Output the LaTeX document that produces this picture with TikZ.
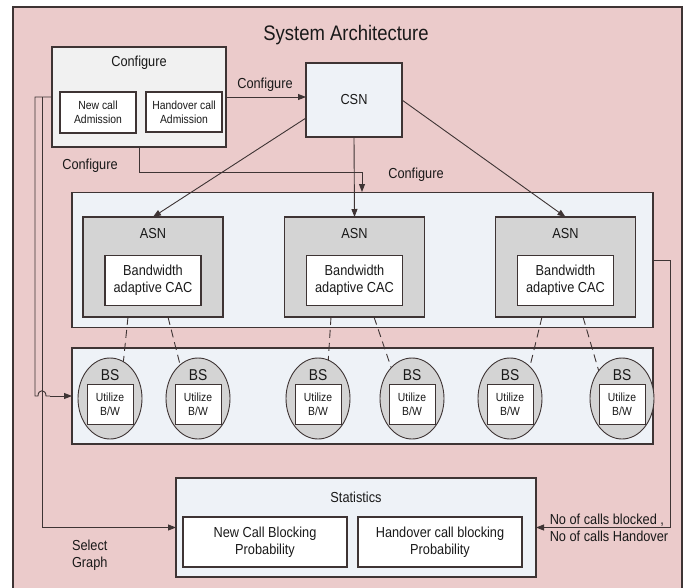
\documentclass[tikz,border=0pt]{standalone}
\usepackage{fontspec}
\setmainfont[FakeStretch=0.88]{Liberation Sans}
\usetikzlibrary{arrows.meta,calc,shapes.geometric}
\definecolor{pinkbg}{RGB}{235,203,203}
\definecolor{panel}{RGB}{238,242,247}
\definecolor{cfgfill}{RGB}{241,241,241}
\definecolor{asngray}{RGB}{212,212,212}
\definecolor{edge}{RGB}{62,52,52}
\begin{document}
\begin{tikzpicture}[x=1pt,y=-1pt,
  every node/.style={inner sep=0pt, outer sep=0pt, text=black!90},
  box/.style={draw=edge, line width=1.1pt, rectangle},
  whitebox/.style={box, fill=white, align=center, font=\fontsize{14.5}{17}\selectfont},
  smallbox/.style={box, fill=white, align=center, font=\fontsize{11.8}{14}\selectfont},
  lbl/.style={font=\fontsize{14.5}{17}\selectfont, align=center},
  conn/.style={draw=edge, line width=0.9pt},
  arr/.style={conn, -{Triangle[length=8pt,width=6pt]}},
  dashlink/.style={draw=edge, line width=0.9pt, dash pattern=on 8pt off 5pt},
  bsell/.style={ellipse, draw=edge, line width=0.9pt, fill=asngray, minimum width=64pt, minimum height=81pt},
  bsin/.style={box, line width=0.9pt, fill=white, minimum width=46pt, minimum height=40pt, align=center, font=\fontsize{11.8}{13.5}\selectfont},
  bslbl/.style={font=\fontsize{15.7}{17}\selectfont}]
\useasboundingbox (0,0) rectangle (686,587);
\fill[white] (0,0) rectangle (686,587);
\draw[fill=pinkbg, draw=edge, line width=1.2pt] (13,7) rectangle (682,600);
\node[font=\fontsize{21}{24}\selectfont] (title) at (346,35) {System Architecture};

% Configure box
\node[box, fill=cfgfill, minimum width=174pt, minimum height=100pt] (cfg) at (139,97) {};
\node[lbl] (cfglbl) at (139,63) {Configure};
\node[smallbox, minimum width=76pt, minimum height=41pt] (ncall) at (98,112.5) {New call\\Admission};
\node[smallbox, minimum width=76pt, minimum height=40pt] (hcall) at (184,112) {Handover call\\Admission};

% CSN
\node[box, fill=panel, minimum width=96pt, minimum height=74pt, lbl] (csn) at (354,100) {CSN};

% ASN panel
\node[box, fill=panel, minimum width=581pt, minimum height=135pt] (asnp) at (362.5,260) {};
\foreach \n/\x in {1/153,2/354.5,3/565.5}{
  \node[box, fill=asngray, minimum width=140pt, minimum height=100pt] (asn\n) at (\x,267) {};
  \node[lbl] (asnl\n) at (\x,234) {ASN};
  \node[whitebox, minimum width=96pt, minimum height=50pt] (cac\n) at (\x,280.5) {Bandwidth\\adaptive CAC};
}

% BS panel
\node[box, fill=panel, minimum width=581pt, minimum height=96pt] (bsp) at (362.5,396) {};
\foreach \n/\x in {1/110,2/198,3/318,4/412,5/510,6/622}{
  \node[bsell] (bs\n) at (\x,398.5) {};
  \node[bsin] (bsi\n) at (\x,404.5) {Utilize\\B/W};
  \node[bslbl] (bsl\n) at (\x,375) {BS};
}

% Statistics
\node[box, fill=panel, minimum width=360pt, minimum height=99pt] (stat) at (356,527.5) {};
\node[lbl] (statl) at (356,497) {Statistics};
\node[whitebox, minimum width=164pt, minimum height=50pt] (nprob) at (265,542) {New Call Blocking\\Probability};
\node[whitebox, minimum width=164pt, minimum height=50pt] (hprob) at (440,542) {Handover call blocking\\Probability};

% connectors
\draw[arr] (cfg.east) -- (cfg.east -| csn.west);
\node[lbl] (l1) at (265,85) {Configure};
\coordinate (cfgin) at (362,192);
\draw[arr] (cfg.south) |- (362,172) -- (cfgin);
\node[lbl] (l2) at (90,166) {Configure};
\node[lbl] (l3) at (416,175) {Configure};

\draw[arr] ($(csn.west)+(0,18)$) -- (asn1.north);
\draw[arr] (csn.south) -- (asn2.north);
\draw[arr] (csn.east) -- (asn3.north);

% dashed links
\draw[dashlink] ($(asn1.south)+(-25,0)$) -- (bs1.70);
\draw[dashlink] ($(asn1.south)+(15,0)$) -- (bs2.118);
\draw[dashlink] ($(asn2.south)+(-23.5,0)$) -- (bs3.75);
\draw[dashlink] ($(asn2.south)+(19.5,0)$) -- (bs4.124);
\draw[dashlink] ($(asn3.south)+(-23.5,0)$) -- (bs5.58);
\draw[dashlink] ($(asn3.south)+(17.5,0)$) -- (bs6.130);

% left feedback lines
\draw[conn] (cfg.west) -- (35,97) -- (35,396) -- (38,396) .. controls (38,389) and (46,389) .. (46,396) -- (50,396);
\draw[arr] (50,396) -- (bsp.west);
\draw[conn] (42,97) -- (42,527.5);
\draw[arr] (42,527.5) -- (stat.west);
\node[lbl, anchor=west, align=left] (sel) at (72,555) {Select\\Graph};

% right feedback line
\draw[arr] (asnp.east) -- ++(17,0) |- (stat.east);
\node[lbl, align=left] (nocalls) at (609,527.5) {No of calls blocked ,\\No of calls Handover};
\end{tikzpicture}
\end{document}
